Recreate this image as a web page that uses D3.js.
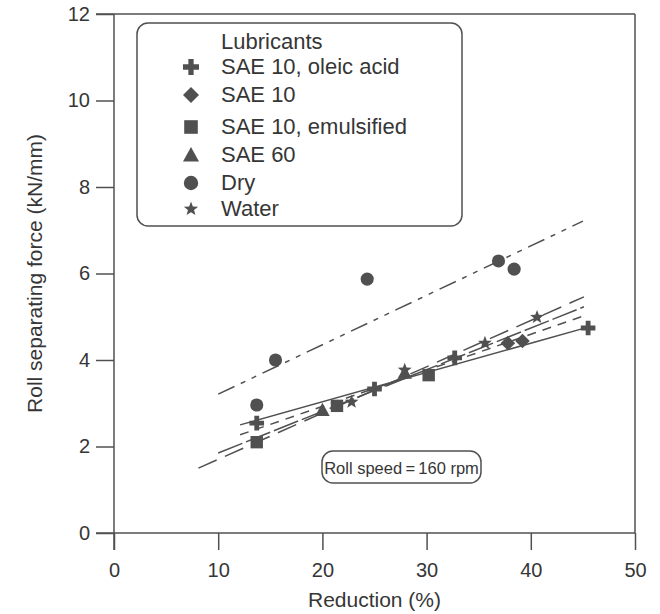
<!DOCTYPE html>
<html><head><meta charset="utf-8">
<script src="https://cdn.jsdelivr.net/npm/d3@7"></script>
<style>body{margin:0;background:#fff}svg{display:block}text{font-family:"Liberation Sans",Arial,Helvetica,sans-serif;fill:#363636}</style>
</head><body><div id="chart"></div>
<script>
// ---- data ----
const lubricants = ["SAE 10, oleic acid","SAE 10","SAE 10, emulsified","SAE 60","Dry","Water"];
const symbolTypes = ["plus","diamond","square","triangle","circle","star"];
const oleicPts = [[13.7,2.54],[25.0,3.33],[32.7,4.05],[45.5,4.74]];
const sae10Pts = [[37.8,4.39],[39.2,4.44]];
const emulsPts = [[13.7,2.10],[21.4,2.94],[30.2,3.65]];
const sae60Pts = [[20.0,2.84],[27.9,3.70]];
const dryPts = [[13.7,2.96],[15.5,4.00],[24.3,5.87],[36.9,6.29],[38.4,6.10]];
const waterPts = [[22.8,3.03],[27.9,3.77],[35.6,4.39],[40.6,4.99]];
const seriesPts = [oleicPts,sae10Pts,emulsPts,sae60Pts,dryPts,waterPts];
// fitted lines (endpoints)
const lineOleic = [[12.1,2.50],[45.5,4.76]];
const lineSae10 = [[12.1,2.27],[45.1,5.02]];
const lineEmuls = [[10.0,1.85],[45.1,5.23]];
const lineWater = [[8.1,1.50],[45.1,5.46]];
const lineDry = [[10.0,3.21],[45.0,7.21]];
const xTicks = [0,10,20,30,40,50];
const yTicks = [0,2,4,6,8,10,12];
const xTitle = "Reduction (%)";
const yTitle = "Roll separating force (kN/mm)";
const legendTitle = "Lubricants";
const note = "Roll speed\u2009=\u2009160 rpm";

// ---- drawing ----
const W=660,H=614;
const ink="#505050";
const svg=d3.select("#chart").append("svg").attr("width",W).attr("height",H);
const x=d3.scaleLinear().domain([0,50]).range([114,635]);
const y=d3.scaleLinear().domain([0,12]).range([533,14]);

function sym(type,s){
  if(type==="plus"){const t=s*0.33;return `M${-t},${-s}H${t}V${-t}H${s}V${t}H${t}V${s}H${-t}V${t}H${-s}V${-t}H${-t}Z`;}
  if(type==="diamond")return `M0,${-s}L${s},0L0,${s}L${-s},0Z`;
  if(type==="square"){const q=s*0.85;return `M${-q},${-q}H${q}V${q}H${-q}Z`;}
  if(type==="triangle")return `M0,${-s}L${s},${s*0.8}L${-s},${s*0.8}Z`;
  if(type==="circle"){const r=s*0.9;return `M${r},0A${r},${r} 0 1,1 ${-r},0A${r},${r} 0 1,1 ${r},0Z`;}
  if(type==="star"){let p="";for(let i=0;i<10;i++){const r=i%2?s*0.42:s;const a=-Math.PI/2+i*Math.PI/5;p+=(i?"L":"M")+(r*Math.cos(a)).toFixed(2)+","+(r*Math.sin(a)).toFixed(2);}return p+"Z";}
}

// frame
const g=svg.append("g").attr("stroke",ink).attr("stroke-width",1.5).attr("fill","none");
g.append("line").attr("x1",x(0)-18).attr("x2",x(50)).attr("y1",y(12)).attr("y2",y(12));
g.append("line").attr("x1",x(50)).attr("x2",x(50)).attr("y1",y(12)).attr("y2",y(0));
// axes
const xAxis=d3.axisBottom(x).tickValues(xTicks).tickSize(17).tickPadding(13).tickFormat(d3.format("d"));
const yAxis=d3.axisLeft(y).tickValues(yTicks).tickSize(18).tickPadding(6).tickFormat(d3.format("d"));
const gx=svg.append("g").attr("transform",`translate(0,${y(0)})`).call(xAxis);
const gy=svg.append("g").attr("transform",`translate(${x(0)},0)`).call(yAxis);
[gx,gy].forEach(a=>{a.select(".domain").remove();a.selectAll("line").attr("stroke",ink).attr("stroke-width",1.5);a.selectAll("text").attr("font-size",20).attr("fill","#363636").attr("font-family","Liberation Sans, Arial, sans-serif");});
svg.append("line").attr("x1",x(0)-18).attr("x2",x(50)).attr("y1",y(0)).attr("y2",y(0)).attr("stroke",ink).attr("stroke-width",1.5);
svg.append("line").attr("x1",x(0)).attr("x2",x(0)).attr("y1",y(12)).attr("y2",y(0)+17).attr("stroke",ink).attr("stroke-width",1.5);

// titles
svg.append("text").attr("x",x(25)).attr("y",607).attr("text-anchor","middle").attr("font-size",21).text(xTitle);
svg.append("text").attr("transform",`translate(42,${y(6)}) rotate(-90)`).attr("text-anchor","middle").attr("font-size",21).text(yTitle);

// fitted lines
const lg=d3.line().x(d=>x(d[0])).y(d=>y(d[1]));
const lines=[[lineDry,"18,7,5,7,5,7"],[lineWater,"20,9"],[lineEmuls,"26,4"],[lineSae10,"9,7"],[lineOleic,null]];
lines.forEach(([d,dash])=>{const p=svg.append("path").attr("d",lg(d)).attr("fill","none").attr("stroke",ink).attr("stroke-width",1.5);if(dash)p.attr("stroke-dasharray",dash);});

// points
seriesPts.forEach((pts,i)=>{
  svg.append("g").selectAll("path").data(pts).join("path")
    .attr("transform",d=>`translate(${x(d[0])},${y(d[1])})`)
    .attr("d",sym(symbolTypes[i],7.3)).attr("fill",ink);
});

// legend
svg.append("rect").attr("x",137).attr("y",23).attr("width",325).attr("height",203).attr("rx",11)
  .attr("fill","none").attr("stroke",ink).attr("stroke-width",1.5);
svg.append("text").attr("x",221).attr("y",49).attr("font-size",22).text(legendTitle);
const legY=[74,102,134,162,190,216];
lubricants.forEach((name,i)=>{
  svg.append("path").attr("transform",`translate(191,${legY[i]-7})`).attr("d",sym(symbolTypes[i],symbolTypes[i]==="star"?7.5:8)).attr("fill",ink);
  svg.append("text").attr("x",221).attr("y",legY[i]).attr("font-size",22).text(name);
});

// note box
svg.append("rect").attr("x",322).attr("y",451).attr("width",159).attr("height",32).attr("rx",11)
  .attr("fill","none").attr("stroke",ink).attr("stroke-width",1.5);
svg.append("text").attr("x",401.5).attr("y",474).attr("text-anchor","middle").attr("font-size",16.5).text(note);
</script></body></html>
